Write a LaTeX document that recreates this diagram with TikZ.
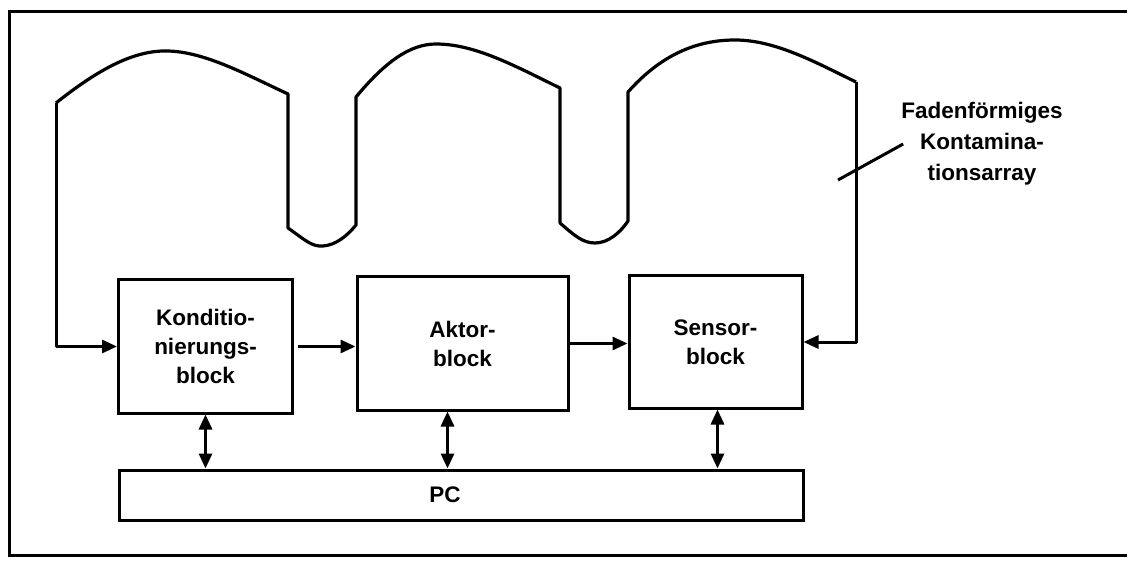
\documentclass[tikz,border=0pt]{standalone}
\usepackage{fontspec}
\setmainfont{Liberation Sans}
\usepackage{tikz}
\usetikzlibrary{arrows.meta,positioning,calc}

\begin{document}
\begin{tikzpicture}[x=1pt, y=-1pt,
  blk/.style={rectangle, draw=black, line width=3pt, minimum width=174pt, minimum height=133pt, align=center, inner sep=0pt, font=\fontsize{22.5}{29}\selectfont\bfseries},
  pcbox/.style={rectangle, draw=black, line width=3pt, minimum width=684pt, minimum height=50pt, inner sep=0pt},
  lbl/.style={align=center, inner sep=0pt, font=\fontsize{22.5}{31}\selectfont\bfseries},
  wire/.style={line width=3.2pt, line join=round},
  arr/.style={line width=3pt, -{Triangle[length=15pt, width=13pt]}},
  biarr/.style={line width=3pt, {Triangle[length=15pt, width=13pt]}-{Triangle[length=15pt, width=13pt]}}
]
\useasboundingbox (0,0) rectangle (1127,561);

% frame
\draw[line width=3pt] (1135,12) -- (9,12) -- (9,555) -- (1135,555);

\node[blk] (cond) at (205.5,346.5) {Konditio-\\nierungs-\\block};
\node[blk, minimum width=211pt] (aktor) at (462.5,343.5) {Aktor-\\block};
\node[blk, minimum width=173pt, minimum height=132pt] (sensor) at (715.5,342) {Sensor-\\block};
\node[pcbox] (pc) at (461,495) {};
\node[lbl, font=\fontsize{22.5}{29}\selectfont\bfseries] (pclbl) at (445,495) {PC};

\node[lbl] (array) at (982,144) {Fadenförmiges\\Kontamina-\\tionsarray};

% filament array
\coordinate (arrL) at (56,103);
\coordinate (arrR) at (856,82);
\coordinate (lead) at (838,180);
\draw[wire] (arrL) .. controls (100,68) and (135,50) .. (168,51)
  .. controls (205,52) and (245,74) .. (288,94)
  -- (288,228) .. controls (305,240) and (312,247) .. (323,246)
  .. controls (336,245) and (347,236) .. (356,225)
  -- (356,97) .. controls (385,62) and (410,44) .. (436,44)
  .. controls (475,44) and (515,66) .. (560,88)
  -- (560,223) .. controls (575,236) and (583,243) .. (595,243)
  .. controls (608,243) and (620,233) .. (628,221)
  -- (628,92) .. controls (660,56) and (695,40) .. (735,40)
  .. controls (775,40) and (815,62) .. (856,82);
\draw[arr, line join=round] (arrL) |- (cond.west);
\draw[arr, line join=round] (arrR) |- (sensor.east);
\draw[line width=3pt] (lead) -- ([xshift=2pt]array.west);

\draw[arr, shorten <=4pt] (cond.east) -- (cond.east -| aktor.west);
\draw[arr] (aktor.east) -- (aktor.east -| sensor.west);

\draw[biarr] (cond.south) -- (cond.south |- pc.north);
\draw[biarr] ([xshift=-15pt]aktor.south) -- ([xshift=-15pt]aktor.south |- pc.north);
\draw[biarr] ([xshift=2pt]sensor.south) -- ([xshift=2pt]sensor.south |- pc.north);
\end{tikzpicture}
\end{document}
